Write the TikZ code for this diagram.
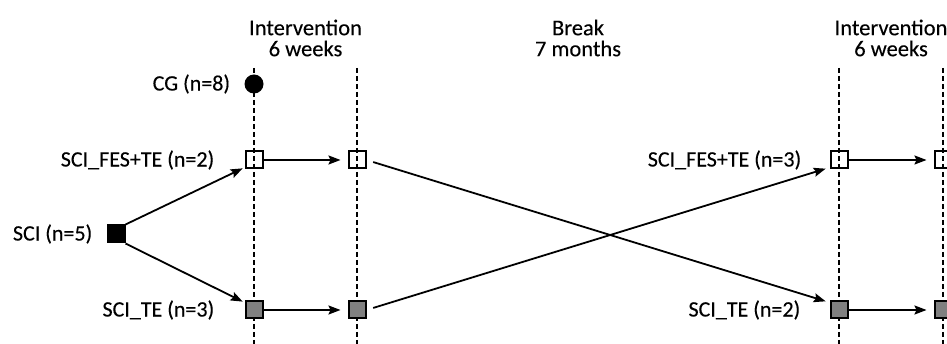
\documentclass[tikz,border=0pt]{standalone}
\usepackage{fontspec}
\setmainfont{Carlito}[FakeBold=0.2]
\usetikzlibrary{arrows.meta}
\begin{document}
\begin{tikzpicture}[x=1pt,y=-1pt,
  lbl/.style={font=\fontsize{22}{21}\selectfont, inner sep=0pt},
  hdr/.style={font=\fontsize{22.5}{21}\selectfont, align=center, inner sep=0pt},
  timeline/.style={line width=2.2pt, dash pattern=on 5pt off 3pt},
  wbox/.style={draw, line width=2pt, minimum size=17pt, inner sep=0pt},
  gbox/.style={wbox, fill=gray},
  bbox/.style={wbox, fill=black},
  dot/.style={circle, fill=black, minimum size=19pt, inner sep=0pt},
  arr/.style={line width=1.8pt, -{Stealth[length=12pt,width=9pt,inset=2pt]}},
]
\useasboundingbox (0,0) rectangle (947,344);
\begin{scope}
\clip (0,0) rectangle (947,344);
\coordinate (a1) at (254,68); \coordinate (b1) at (254,350);
\coordinate (a2) at (357,68); \coordinate (b2) at (357,350);
\coordinate (a3) at (839,68); \coordinate (b3) at (839,350);
\coordinate (a4) at (943,68); \coordinate (b4) at (943,350);
\draw[timeline] (a1) -- (b1);
\draw[timeline] (a2) -- (b2);
\draw[timeline] (a3) -- (b3);
\draw[timeline] (a4) -- (b4);

\node[hdr] (h1) at (305.5,38) {Intervention\\6 weeks};
\node[hdr] (h2) at (578,38) {Break\\7 months};
\node[hdr] (h3) at (891,38) {Intervention\\6 weeks};

\node[dot] (cg) at (254,84) {};
\node[wbox] (f1) at (254,160) {};
\node[wbox] (f2) at (357,160) {};
\node[wbox] (f3) at (839,160) {};
\node[wbox] (f4) at (943,160) {};
\node[gbox] (t1) at (254,310) {};
\node[gbox] (t2) at (357,310) {};
\node[gbox] (t3) at (839,310) {};
\node[gbox] (t4) at (943,310) {};
\node[bbox] (sci) at (116,234) {};

\node[lbl,anchor=east] (lcg) at ([xshift=-14pt]cg.west) {CG (n=8)};
\node[lbl,anchor=east] (lf1) at ([xshift=-30pt]f1.west) {SCI\_FES+TE (n=2)};
\node[lbl,anchor=east] (lsci) at ([xshift=-14pt]sci.west) {SCI (n=5)};
\node[lbl,anchor=east] (lt1) at ([xshift=-30pt]t1.west) {SCI\_TE (n=3)};
\node[lbl,anchor=east] (lf3) at ([xshift=-28pt]f3.west) {SCI\_FES+TE (n=3)};
\node[lbl,anchor=east] (lt3) at ([xshift=-29pt]t3.west) {SCI\_TE (n=2)};

\draw[arr, shorten >=2pt] (sci.north east) -- ([yshift=2pt]f1.south west);
\draw[arr, shorten >=2pt] (sci.south east) -- ([yshift=-2pt]t1.north west);
\draw[arr, shorten >=7pt] (f1) -- (f2);
\draw[arr, shorten >=7pt] (t1) -- (t2);
\draw[arr, shorten >=7pt] (f3) -- (f4);
\draw[arr, shorten >=7pt] (t3) -- (t4);
\draw[arr, shorten <=7pt, shorten >=4pt] (f2.east) -- ([yshift=-2pt]t3.north west);
\draw[arr, shorten <=7pt, shorten >=4pt] (t2.east) -- ([yshift=2pt]f3.south west);
\end{scope}
\end{tikzpicture}
\end{document}
